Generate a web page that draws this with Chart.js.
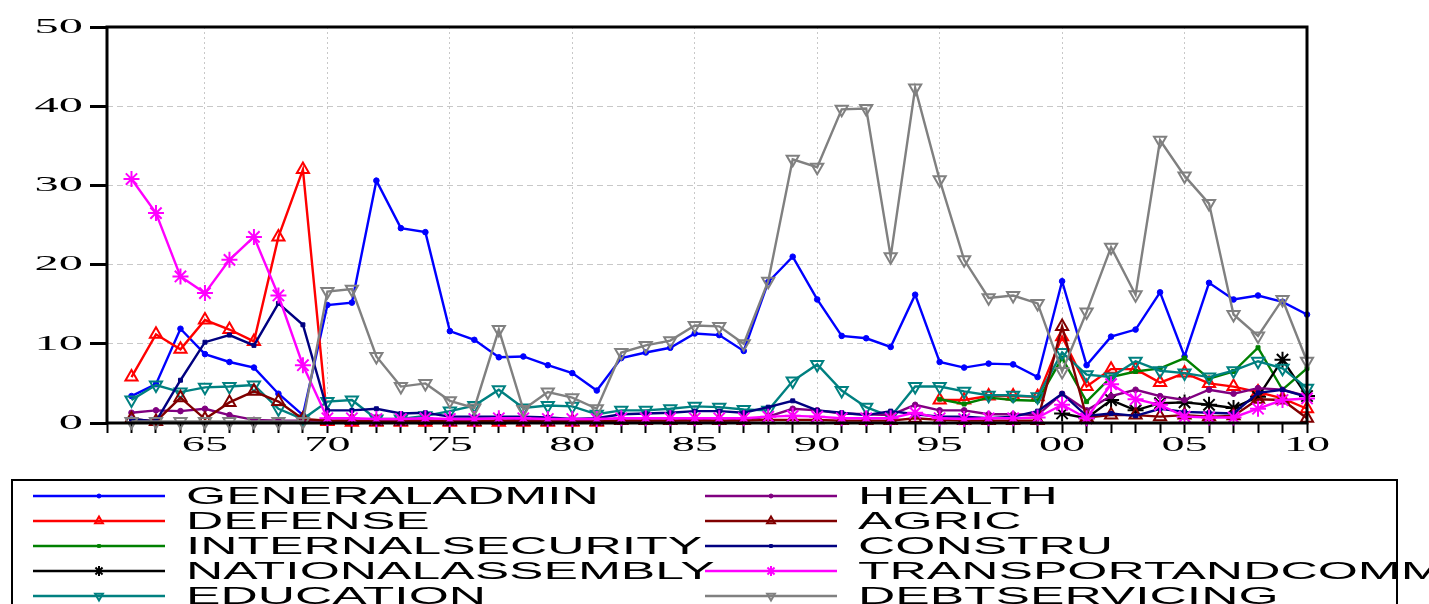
<!doctype html>
<html>
<head>
<meta charset="utf-8">
<title>Dépenses par secteur</title>
<script src="https://cdn.jsdelivr.net/npm/chart.js@4.4.1/dist/chart.umd.min.js"></script>
<style>
  body { margin: 0; background: #fff; }
  canvas { display: block; }
</style>
</head>
<body>
<canvas id="myChart" width="1429" height="604"></canvas>
<script>
    // years 1962 .. 2010
    var years = [1962, 1963, 1964, 1965, 1966, 1967, 1968, 1969, 1970, 1971,
                 1972, 1973, 1974, 1975, 1976, 1977, 1978, 1979, 1980, 1981,
                 1982, 1983, 1984, 1985, 1986, 1987, 1988, 1989, 1990, 1991,
                 1992, 1993, 1994, 1995, 1996, 1997, 1998, 1999, 2000, 2001,
                 2002, 2003, 2004, 2005, 2006, 2007, 2008, 2009, 2010];

    var xTicks = [1965, 1970, 1975, 1980, 1985, 1990, 1995, 2000, 2005, 2010];
    var xTickLabels = ["65", "70", "75", "80", "85", "90", "95", "00", "05", "10"];
    var yTicks = [0, 10, 20, 30, 40, 50];

    var generaladmin = [3.4, 4.9, 11.9, 8.7, 7.7, 7.0, 3.7, 1.0, 14.9, 15.2,
                        30.6, 24.6, 24.1, 11.6, 10.5, 8.3, 8.4, 7.3, 6.3, 4.1,
                        8.2, 8.9, 9.5, 11.3, 11.1, 9.1, 17.8, 21.0, 15.6, 11.0,
                        10.7, 9.6, 16.2, 7.7, 7.0, 7.5, 7.4, 5.8, 17.9, 7.3,
                        10.9, 11.8, 16.5, 8.4, 17.7, 15.6, 16.1, 15.3, 13.7];
    var defense = [5.8, 11.2, 9.3, 13.0, 11.8, 10.3, 23.5, 32.0, 0.2, 0.1,
                   0.1, 0.1, 0.1, 0.1, 0.1, 0.1, 0.1, 0.1, 0.1, 0.1,
                   null, null, null, null, null, null, null, null, null, null,
                   null, null, null, 2.9, 2.9, 3.4, 3.4, 3.3, 10.9, 4.6,
                   6.8, 6.8, 5.1, 6.3, 5.0, 4.6, 3.9, 3.1, 1.8];
    var internalsecurity = [null, null, null, null, null, null, null, null, null, null,
                            null, null, null, null, null, null, null, null, null, null,
                            null, null, null, null, null, null, null, null, null, null,
                            null, null, null, 3.0, 2.4, 3.2, 2.9, 2.8, 8.2, 2.7,
                            5.8, 6.5, 6.9, 8.2, 5.6, 6.5, 9.5, 4.2, 6.9];
    var nationalassembly = [null, null, null, null, null, null, null, null, null, null,
                            null, null, null, null, null, null, null, null, null, null,
                            null, null, null, null, null, null, null, null, null, null,
                            null, null, null, null, null, null, null, null, 1.2, 0.6,
                            2.9, 1.6, 2.5, 2.6, 2.3, 1.9, 3.3, 8.0, 3.4];
    var education = [2.9, 4.8, 3.9, 4.5, 4.6, 4.8, 1.8, 0.5, 2.7, 2.9,
                     0.5, 0.5, 0.9, 1.5, 2.2, 4.2, 1.9, 2.2, 2.1, 1.1,
                     1.6, 1.6, 1.8, 2.1, 2.0, 1.7, 1.6, 5.3, 7.4, 4.1,
                     2.0, 0.8, 4.6, 4.6, 4.0, 3.5, 3.5, 3.3, 8.9, 6.1,
                     5.8, 7.8, 6.6, 6.3, 5.8, 6.6, 7.8, 6.9, 4.4];
    var health = [1.3, 1.6, 1.5, 1.8, 1.0, 0.4, 0.3, 0.3, 0.3, 0.3,
                  0.3, 0.4, 0.3, 0.3, 0.3, 0.3, 0.4, 0.3, 0.3, 0.3,
                  0.3, 0.3, 0.3, 0.4, 0.3, 0.4, 0.8, 1.8, 1.6, 1.2,
                  1.1, 1.0, 2.3, 1.6, 1.6, 1.1, 1.1, 1.0, 3.7, 1.6,
                  3.4, 4.2, 3.4, 2.9, 4.2, 3.7, 4.4, 4.2, 3.4];
    var agric = [0.5, 0.2, 3.2, 0.5, 2.6, 4.0, 2.7, 0.5, 0.3, 0.3,
                 0.2, 0.2, 0.3, 0.2, 0.2, 0.3, 0.2, 0.2, 0.2, 0.2,
                 0.3, 0.3, 0.3, 0.3, 0.3, 0.3, 0.4, 0.4, 0.4, 0.3,
                 0.3, 0.3, 0.6, 0.4, 0.3, 0.3, 0.3, 0.3, 12.2, 0.7,
                 1.0, 1.0, 0.8, 1.0, 0.8, 0.9, 3.0, 2.9, 0.6];
    var constru = [0.5, 0.2, 5.4, 10.2, 11.1, 9.8, 15.1, 12.4, 1.6, 1.6,
                   1.8, 1.2, 1.3, 0.8, 0.8, 0.8, 0.8, 0.7, 0.5, 0.6,
                   1.1, 1.2, 1.3, 1.5, 1.5, 1.3, 2.0, 2.8, 1.6, 1.3,
                   1.0, 1.5, 1.1, 0.8, 0.8, 0.6, 0.8, 1.5, 3.7, 0.9,
                   1.2, 0.9, 1.8, 1.4, 1.3, 1.2, 3.8, 4.2, 3.3];
    var transportandcomm = [30.8, 26.5, 18.5, 16.4, 20.6, 23.5, 16.1, 7.3, 0.6, 0.6,
                            0.5, 0.5, 0.6, 0.5, 0.5, 0.6, 0.6, 0.5, 0.5, 0.5,
                            0.6, 0.6, 0.6, 0.6, 0.6, 0.6, 0.8, 0.9, 0.8, 0.6,
                            0.6, 0.6, 1.3, 0.6, 0.5, 0.6, 0.6, 0.7, 2.3, 0.6,
                            4.9, 3.0, 2.3, 0.8, 0.7, 0.7, 1.8, 2.9, 3.1];
    var debtservicing = [0.2, 0.2, 0.2, 0.2, 0.2, 0.2, 0.2, 0.2, 16.6, 16.9,
                         8.4, 4.6, 5.0, 2.8, 1.9, 11.8, 1.7, 3.9, 3.2, 1.8,
                         8.9, 9.8, 10.4, 12.3, 12.2, 10.0, 17.9, 33.3, 32.3, 39.6,
                         39.7, 21.0, 42.3, 30.7, 20.6, 15.8, 16.1, 15.1, 6.5, 14.0,
                         22.2, 16.2, 35.7, 31.2, 27.7, 13.7, 11.0, 15.6, 7.8];

    function serie(label, values, color, style, radius, rotation, filled) {
        return {
            label: label,
            data: years.map(function (y, i) { return {x: y, y: values[i]}; }),
            borderColor: color,
            backgroundColor: color,
            borderWidth: 2.4,
            pointStyle: style,
            pointRadius: radius,
            pointRotation: rotation,
            pointBorderColor: color,
            pointBackgroundColor: filled ? color : "rgba(0,0,0,0)",
            pointBorderWidth: filled ? 1 : 2,
            tension: 0,
            spanGaps: false,
            clip: false
        };
    }

    var datasets = [
        serie("GENERALADMIN", generaladmin, "#0000ff", "circle", 2.8, 0, true),
        serie("DEFENSE", defense, "#ff0000", "triangle", 7, 0, false),
        serie("INTERNALSECURITY", internalsecurity, "#008000", "rect", 2.8, 0, true),
        serie("NATIONALASSEMBLY", nationalassembly, "#000000", "star", 8, 0, false),
        serie("EDUCATION", education, "#008080", "triangle", 7, 180, false),
        serie("HEALTH", health, "#800080", "circle", 2.8, 0, true),
        serie("AGRIC", agric, "#800000", "triangle", 7, 0, false),
        serie("CONSTRU", constru, "#000080", "rect", 2.8, 0, true),
        serie("TRANSPORTANDCOMM", transportandcomm, "#ff00ff", "star", 8, 0, false),
        serie("DEBTSERVICING", debtservicing, "#808080", "triangle", 7, 180, false)
    ];
    // later series on top, like the original
    datasets.forEach(function (d, i) { d.order = datasets.length - i; });

    function stretchText(c, text, x, y, sx, align) {
        c.save();
        c.translate(x, y);
        c.scale(sx, 1);
        c.textAlign = align;
        c.textBaseline = "middle";
        c.fillText(text, 0, 0);
        c.restore();
    }

    function legendMarker(c, d, x, y) {
        var opts = {
            pointStyle: d.pointStyle,
            radius: d.pointStyle === "star" ? 5 : (d.pointRadius > 3 ? 4.5 : 2),
            rotation: d.pointRotation,
            borderWidth: d.pointBorderWidth
        };
        c.strokeStyle = d.pointBorderColor;
        c.fillStyle = d.pointBackgroundColor;
        c.lineWidth = d.pointBorderWidth;
        if (Chart.helpers && Chart.helpers.drawPoint) {
            Chart.helpers.drawPoint(c, opts, x, y);
        }
    }

    var decor = {
        id: "decor",
        afterDatasetsDraw: function (chart) {
            var c = chart.ctx;
            var a = chart.chartArea;
            var xs = chart.scales.x;
            var ys = chart.scales.y;

            // frame
            c.save();
            c.strokeStyle = "#000";
            c.lineWidth = 3;
            c.strokeRect(a.left, a.top, a.right - a.left, a.bottom - a.top);

            // tick labels, wide serif like the original
            c.fillStyle = "#000";
            c.font = '22px "Liberation Serif"';
            xTicks.forEach(function (v, i) {
                stretchText(c, xTickLabels[i], xs.getPixelForValue(v), a.bottom + 22, 2.1, "center");
            });
            yTicks.forEach(function (v) {
                stretchText(c, String(v), 83, ys.getPixelForValue(v), 2.2, "right");
            });

            // legend box
            c.lineWidth = 2;
            c.strokeRect(12, 480, 1385, 200);
            c.font = '24px "Liberation Sans"';
            chart.data.datasets.forEach(function (d, i) {
                var col = i < 5 ? 0 : 1;
                var row = i % 5;
                var y = 496 + row * 25;
                var x0 = col === 0 ? 33 : 705;
                c.strokeStyle = d.borderColor;
                c.lineWidth = 2.4;
                c.beginPath();
                c.moveTo(x0, y);
                c.lineTo(x0 + 132, y);
                c.stroke();
                legendMarker(c, d, x0 + 66, y);
                c.fillStyle = "#000";
                stretchText(c, d.label, x0 + 153, y + 1, 2.15, "left");
            });
            c.restore();
        }
    };

    var ctx = document.getElementById("myChart").getContext("2d");

    var myChart = new Chart(ctx, {
        type: "line",
        data: { datasets: datasets },
        plugins: [decor],
        options: {
            responsive: false,
            animation: false,
            layout: { padding: { left: 90, right: 122, top: 27, bottom: 171 } },
            plugins: { legend: { display: false }, tooltip: { enabled: false } },
            scales: {
                x: {
                    type: "linear",
                    min: 1961,
                    max: 2010,
                    ticks: { stepSize: 1, display: false },
                    grid: {
                        color: function (c) {
                            var v = c.tick ? c.tick.value : 0;
                            return (v % 5 === 0 && v > 1961 && v < 2010) ? "#c8c8c8" : "rgba(0,0,0,0)";
                        },
                        lineWidth: 1,
                        tickColor: "#000",
                        tickWidth: 2,
                        tickLength: 10,
                        tickBorderDash: []
                    },
                    border: { display: false, dash: [2, 3] }
                },
                y: {
                    min: 0,
                    max: 50,
                    ticks: { stepSize: 10, display: false },
                    grid: {
                        color: function (c) {
                            var v = c.tick ? c.tick.value : 0;
                            return (v > 0 && v < 50) ? "#c8c8c8" : "rgba(0,0,0,0)";
                        },
                        lineWidth: 1,
                        tickColor: "#000",
                        tickWidth: 3,
                        tickLength: 17,
                        tickBorderDash: []
                    },
                    border: { display: false, dash: [6, 4] }
                }
            }
        }
    });
</script>
</body>
</html>
